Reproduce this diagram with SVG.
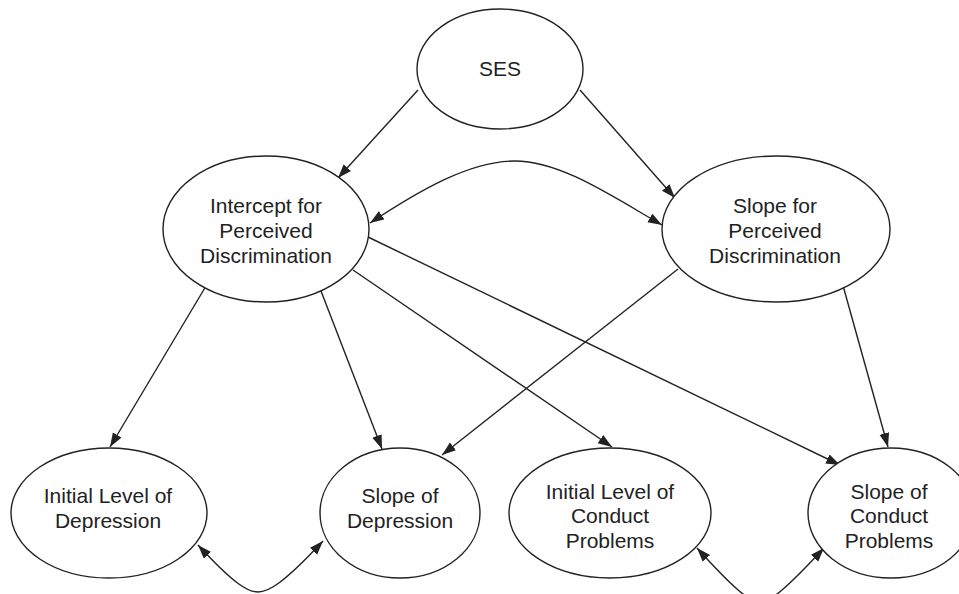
<svg xmlns="http://www.w3.org/2000/svg" width="959" height="594" viewBox="0 0 959 594">
<style>
.node ellipse{fill:#fff;stroke:#222;stroke-width:1.4}
.node text{font-family:"Liberation Sans",Arial,sans-serif;font-size:21px;fill:#222;text-anchor:middle}
.edges path{fill:none;stroke:#222;stroke-width:1.4}
</style>
<defs>
<marker id="ah" markerUnits="userSpaceOnUse" markerWidth="16" markerHeight="12" refX="14" refY="5" orient="auto-start-reverse">
<path d="M0,0 L14,5 L0,10 z" fill="#222"/>
</marker>
</defs>
<rect width="959" height="594" fill="#fff"/>
<g class="edges">
<path d="M418,90 L338,178" marker-end="url(#ah)"/>
<path d="M580,90 L675,198" marker-end="url(#ah)"/>
<path d="M370,223 C420,190 470,161 515,161 C560,161 610,195 662,225" marker-start="url(#ah)" marker-end="url(#ah)"/>
<path d="M206,286 L110,447" marker-end="url(#ah)"/>
<path d="M321,291 L382,449" marker-end="url(#ah)"/>
<path d="M353,270 L612,447" marker-end="url(#ah)"/>
<path d="M368,237 L840,465" marker-end="url(#ah)"/>
<path d="M678,269 L442,455" marker-end="url(#ah)"/>
<path d="M842,282 L888,447" marker-end="url(#ah)"/>
<path d="M198,545 C235,585 248,592 258,592 C268,592 282,585 323,541" marker-start="url(#ah)" marker-end="url(#ah)"/>
<path d="M697,548 C735,590 750,602 760,602 C770,602 785,590 824,548" marker-start="url(#ah)" marker-end="url(#ah)"/>
</g>
<g id="ses" class="node">
<ellipse cx="500" cy="69" rx="83" ry="60"/>
<text x="500" y="76">SES</text>
</g>
<g id="intercept" class="node">
<ellipse cx="266" cy="229" rx="103" ry="73"/>
<text x="266" y="213">Intercept for</text>
<text x="266" y="238">Perceived</text>
<text x="266" y="263">Discrimination</text>
</g>
<g id="slopepd" class="node">
<ellipse cx="776" cy="229" rx="114" ry="73"/>
<text x="775" y="213">Slope for</text>
<text x="775" y="238">Perceived</text>
<text x="775" y="263">Discrimination</text>
</g>
<g id="initdep" class="node">
<ellipse cx="109" cy="513" rx="98" ry="65"/>
<text x="108" y="503">Initial Level of</text>
<text x="108" y="528">Depression</text>
</g>
<g id="slopedep" class="node">
<ellipse cx="400" cy="513" rx="80" ry="65"/>
<text x="400" y="503">Slope of</text>
<text x="400" y="528">Depression</text>
</g>
<g id="initcond" class="node">
<ellipse cx="610" cy="513" rx="101" ry="65"/>
<text x="610" y="499">Initial Level of</text>
<text x="610" y="523">Conduct</text>
<text x="610" y="548">Problems</text>
</g>
<g id="slopecond" class="node">
<ellipse cx="891" cy="513" rx="83" ry="65"/>
<text x="889" y="499">Slope of</text>
<text x="889" y="523">Conduct</text>
<text x="889" y="548">Problems</text>
</g>
</svg>
